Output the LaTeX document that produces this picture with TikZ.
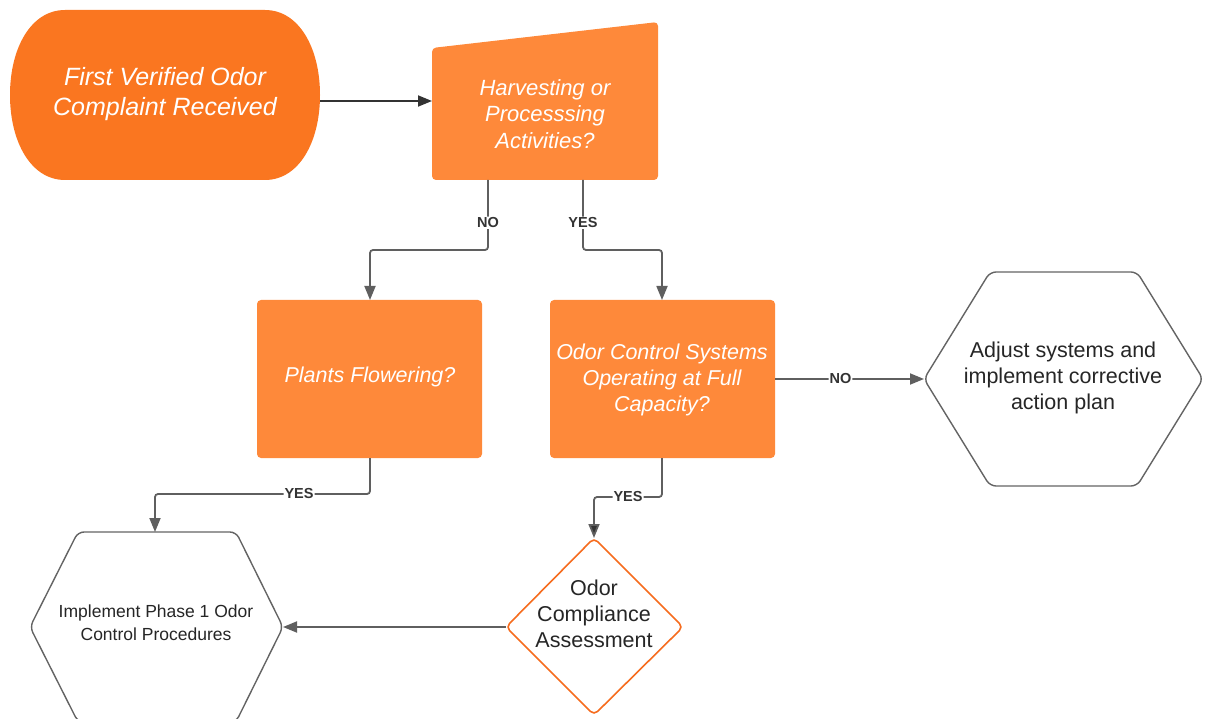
\documentclass[tikz,border=0pt]{standalone}
\usepackage{fontspec}
\setmainfont{Liberation Sans}
\usetikzlibrary{arrows.meta}
\definecolor{orangeA}{RGB}{250,118,32}
\definecolor{orangeB}{RGB}{254,137,58}
\definecolor{orangeL}{RGB}{246,108,30}
\definecolor{lineg}{RGB}{95,95,95}
\definecolor{darkl}{RGB}{51,51,51}
\definecolor{hexg}{RGB}{100,100,100}
\begin{document}
\begin{tikzpicture}[x=1pt,y=-1pt,
  conn/.style={draw=lineg, line width=1.8pt, -{Triangle[length=14pt,width=11pt]}, rounded corners=3pt},
  darkconn/.style={conn, draw=darkl},
  lbl/.style={fill=white, inner sep=1pt, font=\fontsize{14.5}{16}\selectfont\bfseries, text=darkl},
  wtxt/.style={text=white, align=center, inner sep=0pt},
  btxt/.style={text=black!85, align=center, inner sep=0pt},
  hexshape/.style={draw=hexg, line width=1.4pt, fill=white, rounded corners=6pt},
  boxshape/.style={fill=orangeB, rounded corners=4pt}]
\useasboundingbox (0,0) rectangle (1210,719);

% terminator
\fill[orangeA] (65,10) -- (265,10) .. controls (299,10) and (320,48) .. (320,95)
  .. controls (320,142) and (299,180) .. (265,180) -- (65,180)
  .. controls (31,180) and (10,142) .. (10,95) .. controls (10,48) and (31,10) .. (65,10) -- cycle;
\node[wtxt, font=\fontsize{25}{30}\selectfont\itshape] (term) at (165,94) {First Verified Odor\\Complaint Received};

% manual input
\fill[orangeB, rounded corners=4pt] (432,48) -- (658,22) -- (658,180) -- (432,180) -- cycle;
\node[wtxt, font=\fontsize{22}{26.5}\selectfont\itshape] (manin) at (545,114) {Harvesting or\\Processsing\\Activities?};

% boxes
\fill[boxshape] (257,300) rectangle (482,458);
\node[wtxt, font=\fontsize{21.5}{26}\selectfont\itshape] (plants) at (370,377) {Plants Flowering?};
\fill[boxshape] (550,300) rectangle (775,458);
\node[wtxt, font=\fontsize{21.5}{26}\selectfont\itshape] (ocs) at (662,380) {Odor Control Systems\\Operating at Full\\Capacity?};

% right hexagon
\draw[hexshape] (924,379) -- (990,272) -- (1137,272) -- (1203,379) -- (1137,486) -- (990,486) -- cycle;
\node[btxt, font=\fontsize{21.5}{26}\selectfont] (adjust) at (1063,378) {Adjust systems and\\implement corrective\\action plan};

% left hexagon
\draw[hexshape] (30,627) -- (78,532) -- (236,532) -- (283,627) -- (236,722) -- (78,722) -- cycle;
\node[btxt, font=\fontsize{17.5}{23}\selectfont] (impl) at (156,623) {Implement Phase 1 Odor\\Control Procedures};

% diamond
\draw[draw=orangeL, line width=1.6pt, fill=white, rounded corners=5pt] (594,538) -- (683,627) -- (594,715) -- (506,627) -- cycle;
\node[btxt, font=\fontsize{21.5}{26}\selectfont] (assess) at (594,614) {Odor\\Compliance\\Assessment};

% anchor coordinates
\coordinate (termE) at (320,101);
\coordinate (maninW) at (432,101);
\coordinate (maninNo) at (488,180);
\coordinate (maninYes) at (583,180);
\coordinate (plantsN) at (370,300);
\coordinate (plantsS) at (370,458);
\coordinate (ocsN) at (662,300);
\coordinate (ocsS) at (662,458);
\coordinate (ocsE) at (775,379);
\coordinate (adjustW) at (924,379);
\coordinate (implN) at (155,532);
\coordinate (implE) at (283,627);
\coordinate (assessN) at (594,538);
\coordinate (assessW) at (506,627);

% connectors
\draw[darkconn] (termE) -- (maninW);
\draw[conn] (maninNo) -- node[lbl, pos=0.61]{NO} (488,250) -| (plantsN);
\draw[conn] (maninYes) -- node[lbl, pos=0.61]{YES} (583,250) -| (ocsN);
\draw[conn] (ocsE) -- node[lbl, pos=0.44]{NO} (adjustW);
\draw[conn] (plantsS) -- (370,494) -- node[lbl, pos=0.33]{YES} (155,494) -- (implN);
\draw[conn, -{Triangle[length=14pt,width=11pt,fill=darkl]}] (ocsS) -- (662,497) -- node[lbl, pos=0.5]{YES} (594,497) -- (assessN);
\draw[conn] (assessW) -- (implE);
\end{tikzpicture}
\end{document}
